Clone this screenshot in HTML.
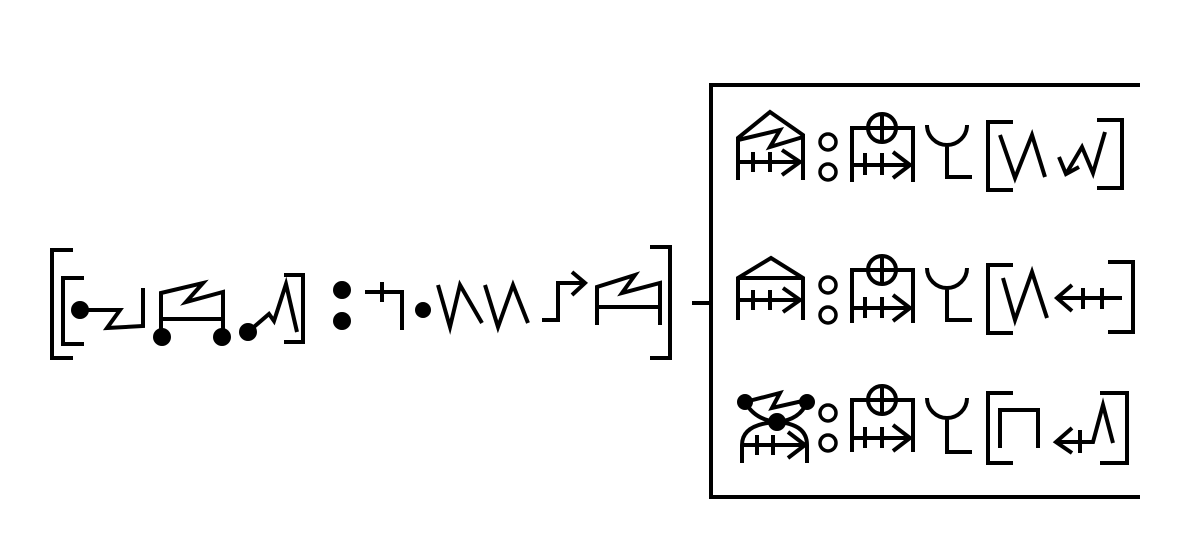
<!DOCTYPE html>
<html><head><meta charset="utf-8"><style>html,body{margin:0;padding:0;background:#fff}svg{display:block}</style></head><body>
<svg width="1183" height="552" viewBox="0 0 1183 552" xmlns="http://www.w3.org/2000/svg">
<g fill="none" stroke="#000" stroke-width="4" stroke-linecap="butt" stroke-linejoin="miter">
<path d="M1140,85 H711 V497 H1140"/>
<path d="M692,303 H711"/>
<path d="M73,250 H52 V358 H73"/>
<path d="M84,278 H63 V344 H84"/>
<path d="M284,275 H303 V342 H284"/>
<path d="M650,247 H670 V358 H650"/>
<path d="M80,310 L120,310 L107,328 L143,326 L143,288"/>
<path d="M161,337 V293 L203,283 L186,302 L223,292 V337 M161,319 H223"/>
<path d="M248,332 L269,314 L274,321 L286,284 L297,332"/>
<path d="M365,292 H402 V330 M382,282 V302"/>
<path d="M438,285 L450,327 L460,285 L482,323"/>
<path d="M485,285 L498,327 L513,285 L528,323"/>
<path d="M542,320 H558 V283 H585 M572,272 L585,283 L572,295"/>
<path d="M597,325 V287 L635,275 L622,293 L660,283 V325 M597,307 H660"/>
<path d="M738,180 V138 L770,112 L803,135 V180 M738,140 L780,130 L770,147 L803,137 M738,162 H800 M753,152 V172 M770,152 V172 M782,150 L800,162 L782,175"/>
<path d="M852,182 V128 H913 V182 M852,165 H910 M865,153 V175 M882,153 V175 M893,152 L910,165 L893,178"/>
<path d="M927,125 A20,20 0 0 0 967,125 M947,143 V177 H972"/>
<path d="M1013,122 H988 V190 H1013"/>
<path d="M1000,135 L1015,178 L1032,135 L1045,177"/>
<path d="M1105,132 L1093,173 L1082,147 L1066,174 M1059,157 L1066,174 L1079,167"/>
<path d="M1097,120 H1122 V188 H1097"/>
<path d="M738,320 V278 L771,258 L803,278 V320 M738,278 H803 M738,300 H800 M753,290 V310 M770,290 V310 M783,288 L800,300 L783,312"/>
<path d="M852,323 V270 H913 V323 M852,308 H910 M865,297 V318 M882,297 V318 M893,295 L910,308 L893,321"/>
<path d="M927,268 A20,20 0 0 0 967,268 M947,286 V320 H972"/>
<path d="M1013,265 H988 V333 H1013"/>
<path d="M1003,278 L1015,320 L1032,272 L1047,318"/>
<path d="M1057,298 H1122 M1072,285 L1057,298 L1072,311 M1083,288 V309 M1102,288 V309"/>
<path d="M1108,262 H1133 V332 H1108"/>
<path d="M745,402 L780,393 L772,408 L807,400"/>
<path d="M745,402 Q755,420 777,422 Q800,420 807,402"/>
<path d="M742,463 V445 Q742,424 777,422 Q807,424 807,445 V463 M742,445 H805 M757,435 V455 M773,435 V455 M788,432 L805,445 L788,458"/>
<path d="M852,452 V400 H913 V452 M852,438 H910 M865,427 V448 M882,427 V448 M893,425 L910,438 L893,451"/>
<path d="M927,398 A20,20 0 0 0 967,398 M947,416 V452 H972"/>
<path d="M1013,393 H988 V463 H1013"/>
<path d="M1000,448 V410 H1038 V448"/>
<path d="M1072,428 L1056,442 L1072,453 M1056,442 H1093 L1103,405 L1113,443 M1080,430 V453"/>
<path d="M1100,393 H1127 V463 H1100"/>
<circle cx="828" cy="142" r="8" stroke-width="3.5"/>
<circle cx="828" cy="172" r="8" stroke-width="3.5"/>
<circle cx="828" cy="285" r="8" stroke-width="3.5"/>
<circle cx="828" cy="315" r="8" stroke-width="3.5"/>
<circle cx="828" cy="413" r="8" stroke-width="3.5"/>
<circle cx="828" cy="443" r="8" stroke-width="3.5"/>
<circle cx="882" cy="128" r="14"/><path d="M868,128 H896 M882,114 V142"/>
<circle cx="882" cy="270" r="14"/><path d="M868,270 H896 M882,256 V284"/>
<circle cx="882" cy="400" r="14"/><path d="M868,400 H896 M882,386 V414"/>
</g>
<g fill="#000">
<circle cx="80" cy="310" r="9"/>
<circle cx="162" cy="337" r="9"/>
<circle cx="222" cy="337" r="9"/>
<circle cx="248" cy="332" r="9"/>
<circle cx="342" cy="290" r="9"/>
<circle cx="342" cy="321" r="9"/>
<circle cx="423" cy="310" r="8"/>
<circle cx="745" cy="402" r="8"/>
<circle cx="807" cy="402" r="8"/>
<circle cx="777" cy="422" r="9"/>
</g>
</svg>
</body></html>
